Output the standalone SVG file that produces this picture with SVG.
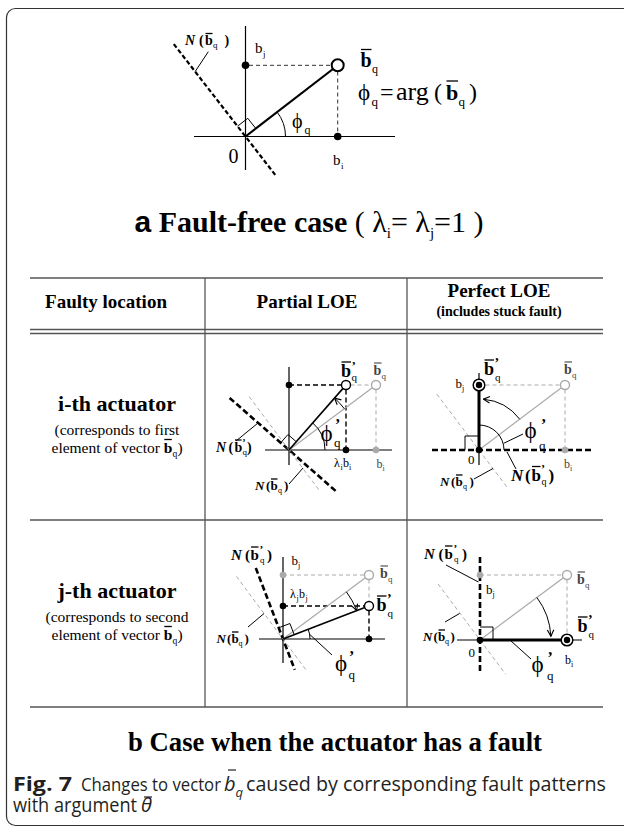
<svg xmlns="http://www.w3.org/2000/svg" width="624" height="830" viewBox="0 0 624 830">
<style>
.ax{stroke:#000;stroke-width:1.2;fill:none}
.vec{stroke:#000;stroke-width:1.6;fill:none}
.vecT{stroke:#000;stroke-width:3;fill:none}
.gv{stroke:#aaa;stroke-width:1.2;fill:none}
.gd{stroke:#aaa;stroke-width:1;stroke-dasharray:4 3;fill:none}
.bd{stroke:#000;stroke-width:1.4;stroke-dasharray:5 3;fill:none}
.kd{stroke:#333;stroke-width:1;stroke-dasharray:4 3;fill:none}
.nd{stroke:#000;stroke-width:2.6;stroke-dasharray:6 3;fill:none}
.thin{stroke:#000;stroke-width:1;fill:none}
.tl{stroke:#555;stroke-width:1.3}
.dot{fill:#000}
.gdot{fill:#aaa}
.oc{fill:#fff;stroke:#000;stroke-width:1.4}
.goc{fill:#fff;stroke:#aaa;stroke-width:1.4}
.bar{stroke:#000;stroke-width:1.3}
.gbar{stroke:#444;stroke-width:1.1}
text{font-family:"Liberation Serif","Times New Roman",serif;fill:#000}
.phi{font-family:"Liberation Serif","DejaVu Serif",serif}
.b{font-weight:bold}
.bi{font-weight:bold;font-style:italic}
.g{fill:#444}
.cap{font-family:"Open Sans","Liberation Sans",sans-serif;fill:#231f20}
</style>
<defs>
<marker id="arr" viewBox="0 0 10 10" refX="9" refY="5" markerWidth="8" markerHeight="8" markerUnits="userSpaceOnUse" orient="auto">
<path d="M1,1 L9,5 L1,9" fill="none" stroke="#000" stroke-width="1.4"/>
</marker>
</defs>
<rect width="624" height="830" fill="#fff"/>
<rect id="frame" x="6.5" y="8.5" width="720" height="817" rx="9" fill="none" stroke="#333" stroke-width="1.2"/>

<!-- panel a -->
<g id="panel-a">
<line class="ax" x1="194" y1="136.5" x2="395" y2="136.5"/>
<line class="ax" x1="245.5" y1="26" x2="245.5" y2="170"/>
<line class="kd" x1="249" y1="65.3" x2="331.5" y2="65.3"/>
<line class="kd" x1="337.7" y1="71.5" x2="337.7" y2="133"/>
<line x1="245.5" y1="136.5" x2="333" y2="69" stroke="#000" stroke-width="2.2"/>
<circle cx="337.7" cy="65.3" r="6" fill="#fff" stroke="#000" stroke-width="2"/>
<circle class="dot" cx="245.5" cy="65.3" r="3.8"/>
<circle class="dot" cx="337.7" cy="136.5" r="3.8"/>
<path class="thin" d="M285.5 136.5 A40 40 0 0 0 277.1 112"/>
<polyline class="thin" points="255.8,128.5 247.8,118.3 237.5,126.2"/>
<line x1="173.8" y1="44.1" x2="275.5" y2="175.2" stroke="#000" stroke-width="2.2" stroke-dasharray="4.5 2.5"/>
<line class="thin" x1="208.3" y1="51.7" x2="195.2" y2="71.5"/>
<text class="bi" x="185" y="45" font-size="14">N</text>
<text class="b" x="199" y="45" font-size="14">(</text>
<text class="b" x="205" y="45" font-size="14">b</text>
<line class="bar" x1="205.5" y1="33.5" x2="212.5" y2="33.5"/>
<text x="213" y="48" font-size="9">q</text>
<text class="b" x="224.5" y="45" font-size="14">)</text>
<text x="255" y="53" font-size="15">b</text><text x="263" y="57" font-size="9">j</text>
<text x="333" y="165" font-size="15">b</text><text x="341" y="169" font-size="9">i</text>
<text x="228.5" y="163" font-size="20">0</text>
<text class="phi" x="292" y="128" font-size="20">ϕ</text><text x="304.5" y="134" font-size="12">q</text>
<text class="b" x="360.5" y="67" font-size="20">b</text>
<line class="bar" x1="361" y1="49.5" x2="371.5" y2="49.5" stroke-width="1.6"/>
<text x="372" y="73" font-size="12">q</text>
<text class="phi" x="358" y="100" font-size="23">ϕ</text><text x="371.5" y="106" font-size="13">q</text>
<text x="380" y="100" font-size="24">=</text>
<text x="396" y="100" font-size="26">arg</text>
<text x="434" y="100" font-size="24">(</text>
<text class="b" x="446" y="100" font-size="22">b</text>
<line class="bar" x1="446.5" y1="81" x2="458" y2="81" stroke-width="1.6"/>
<text x="458.5" y="106" font-size="13">q</text>
<text x="469" y="100" font-size="24">)</text>
<text x="309" y="232" font-size="30" text-anchor="middle"><tspan font-family="Liberation Sans,Arial,sans-serif" font-weight="bold">a</tspan><tspan class="b"> Fault-free case</tspan><tspan> ( λ</tspan><tspan font-size="15" dy="6">i</tspan><tspan dy="-6">= λ</tspan><tspan font-size="15" dy="6">j</tspan><tspan dy="-6">=1 )</tspan></text>
</g>

<!-- table -->
<g id="table">
<line class="tl" x1="30" y1="278" x2="603" y2="278"/>
<line class="tl" x1="30" y1="329.5" x2="603" y2="329.5" stroke-width="1.1"/>
<line class="tl" x1="30" y1="333.5" x2="603" y2="333.5" stroke-width="1.1"/>
<line class="tl" x1="30" y1="520" x2="603" y2="520"/>
<line class="tl" x1="30" y1="707" x2="603" y2="707"/>
<line class="tl" x1="205" y1="278" x2="205" y2="707" stroke-width="1"/>
<line class="tl" x1="407" y1="278" x2="407" y2="707" stroke-width="1"/>
<text class="b" x="106" y="308" font-size="19" text-anchor="middle">Faulty location</text>
<text class="b" x="307" y="308" font-size="19" text-anchor="middle">Partial LOE</text>
<text class="b" x="499" y="297" font-size="19" text-anchor="middle">Perfect LOE</text>
<text class="b" x="499" y="316" font-size="14" text-anchor="middle">(includes stuck fault)</text>
</g>

<g id="row-i-label">
<text class="b" x="117" y="411" font-size="22" text-anchor="middle">i-th actuator</text>
<text x="117" y="435" font-size="15.5" text-anchor="middle">(corresponds to first</text>
<text x="51.5" y="453" font-size="15.5">element of vector </text>
<text class="b" x="163.8" y="453" font-size="15.5">b</text>
<line class="bar" x1="164.3" y1="439.5" x2="171.8" y2="439.5" stroke-width="1.1"/>
<text x="172.5" y="457" font-size="9.5">q</text>
<text x="177.5" y="453" font-size="15.5">)</text>
</g>
<g id="row-j-label">
<text class="b" x="117" y="598" font-size="22" text-anchor="middle">j-th actuator</text>
<text x="117" y="622" font-size="15.5" text-anchor="middle">(corresponds to second</text>
<text x="51.5" y="640" font-size="15.5">element of vector </text>
<text class="b" x="163.8" y="640" font-size="15.5">b</text>
<line class="bar" x1="164.3" y1="626.5" x2="171.8" y2="626.5" stroke-width="1.1"/>
<text x="172.5" y="644" font-size="9.5">q</text>
<text x="177.5" y="640" font-size="15.5">)</text>
</g>

<!-- cell i partial -->
<g id="cell-i-partial">
<line class="ax" x1="289" y1="367" x2="289" y2="465"/>
<line class="ax" x1="265" y1="450" x2="392" y2="450"/>
<line class="nd" x1="229.6" y1="397.9" x2="335.6" y2="490.9"/>
<line class="gd" x1="249.2" y1="396.7" x2="319" y2="490"/>
<line class="gd" x1="350.5" y1="385" x2="371.5" y2="385"/>
<line class="gd" x1="376" y1="389.5" x2="376" y2="450"/>
<line class="bd" x1="289" y1="385" x2="341.5" y2="385"/>
<line class="bd" x1="346" y1="389.5" x2="346" y2="450"/>
<line class="gv" x1="289" y1="450" x2="372.4" y2="387.7"/>
<line class="vec" x1="289" y1="450" x2="343" y2="388.4"/>
<circle class="dot" cx="289" cy="385" r="3.3"/>
<circle class="dot" cx="346" cy="450" r="3.3"/>
<circle class="gdot" cx="376" cy="450" r="3.3"/>
<circle class="oc" cx="346" cy="385" r="4.5"/>
<circle class="goc" cx="376" cy="385" r="4.5"/>
<path class="thin" d="M325 450 A36 36 0 0 0 312.7 422.9"/>
<path class="thin" d="M344.3 408.7 A69 69 0 0 0 334.5 398.1" marker-end="url(#arr)"/>
<polyline class="thin" points="296.25,441.73 287.98,434.48 280.73,442.75"/>
<line class="thin" x1="236" y1="441" x2="258" y2="423"/>
<line class="thin" x1="289" y1="484" x2="303" y2="468"/>
<text class="b" x="341" y="377" font-size="18">b</text>
<line class="bar" x1="341.5" y1="362" x2="351" y2="362"/>
<text class="b" x="351.5" y="370" font-size="13">’</text>
<text x="351.5" y="381" font-size="11">q</text>
<text class="b g" x="373.5" y="375" font-size="14">b</text>
<line class="gbar" x1="374" y1="363" x2="381.5" y2="363"/>
<text class="g" x="381.5" y="379" font-size="9">q</text>
<text class="phi" x="320.5" y="441" font-size="23">ϕ</text>
<text class="b" x="335" y="430" font-size="16">’</text>
<text x="334" y="447" font-size="13">q</text>
<text x="334" y="467" font-size="12">λ</text><text x="340.5" y="470" font-size="8">i</text>
<text x="343" y="467" font-size="12">b</text><text x="349" y="470" font-size="8">i</text>
<text class="g" x="376.5" y="468" font-size="12">b</text><text class="g" x="382.5" y="471" font-size="8">i</text>
<text class="bi" x="216" y="452" font-size="14">N</text>
<text class="b" x="228.5" y="452" font-size="14">(</text>
<text class="b" x="234.5" y="452" font-size="14">b</text>
<line class="bar" x1="235" y1="440" x2="241.5" y2="440" stroke-width="1.1"/>
<text class="b" x="242.3" y="446" font-size="10">’</text>
<text x="242.5" y="455" font-size="9">q</text>
<text class="b" x="247" y="452" font-size="14">)</text>
<text class="bi" x="255" y="490" font-size="13">N</text>
<text class="b" x="266" y="490" font-size="13">(</text>
<text class="b" x="270.5" y="490" font-size="13">b</text>
<line class="bar" x1="271" y1="479" x2="277.5" y2="479" stroke-width="1.1"/>
<text x="278" y="493" font-size="8">q</text>
<text class="b" x="284" y="490" font-size="13">)</text>
</g>

<!-- cell i perfect -->
<g id="cell-i-perfect">
<line class="ax" x1="479" y1="373" x2="479" y2="465"/>
<line class="nd" x1="432" y1="450" x2="592" y2="450"/>
<line class="gd" x1="436.8" y1="394.1" x2="506.7" y2="486.7"/>
<line class="gd" x1="485.5" y1="385" x2="560.5" y2="385"/>
<line class="gd" x1="565" y1="389.5" x2="565" y2="450"/>
<line class="gv" x1="479" y1="450" x2="561.4" y2="387.7"/>
<line class="vecT" x1="479" y1="450" x2="479" y2="391"/>
<circle class="gdot" cx="565" cy="450" r="3.3"/>
<circle class="goc" cx="565" cy="385" r="4.5"/>
<circle cx="479" cy="385" r="5.8" fill="#fff" stroke="#000" stroke-width="1.5"/>
<circle class="dot" cx="479" cy="385" r="3.2"/>
<circle class="dot" cx="479" cy="450" r="3.3"/>
<path class="thin" d="M504 450 A25 25 0 0 0 479 425"/>
<path class="thin" d="M519.7 419.2 A51 51 0 0 0 483.4 399.2" marker-end="url(#arr)"/>
<polyline class="thin" points="465,450 465,436 479,436"/>
<line class="thin" x1="523" y1="434" x2="503.7" y2="443.3"/>
<line class="thin" x1="516" y1="469" x2="507" y2="452"/>
<line class="thin" x1="474" y1="479" x2="493" y2="468.5"/>
<text class="b" x="484" y="375" font-size="18">b</text>
<line class="bar" x1="484.5" y1="360" x2="494" y2="360"/>
<text class="b" x="494.5" y="368" font-size="14">’</text>
<text x="495" y="381" font-size="11">q</text>
<text class="b g" x="564" y="374" font-size="14">b</text>
<line class="gbar" x1="564.5" y1="362" x2="572" y2="362"/>
<text class="g" x="572" y="378" font-size="9">q</text>
<text x="455.5" y="388" font-size="13">b</text><text x="462" y="391" font-size="8">j</text>
<text x="468" y="464" font-size="13">0</text>
<text class="g" x="564" y="468" font-size="12">b</text><text class="g" x="570" y="471" font-size="8">i</text>
<text class="phi" x="524.5" y="438" font-size="23">ϕ</text>
<text class="b" x="541" y="430" font-size="16">’</text>
<text x="539" y="450" font-size="13">q</text>
<text class="bi" x="511" y="481" font-size="17">N</text>
<text class="b" x="525" y="481" font-size="17">(</text>
<text class="b" x="531.5" y="481" font-size="17">b</text>
<line class="bar" x1="532" y1="466.5" x2="540.5" y2="466.5"/>
<text class="b" x="541" y="473" font-size="12">’</text>
<text x="541.5" y="485" font-size="10">q</text>
<text class="b" x="548.5" y="481" font-size="17">)</text>
<text class="bi" x="440" y="486" font-size="13">N</text>
<text class="b" x="451" y="486" font-size="13">(</text>
<text class="b" x="455.5" y="486" font-size="13">b</text>
<line class="bar" x1="456" y1="475" x2="462.5" y2="475" stroke-width="1.1"/>
<text x="463" y="489" font-size="8">q</text>
<text class="b" x="469.5" y="486" font-size="13">)</text>
</g>

<!-- cell j partial -->
<g id="cell-j-partial">
<line class="ax" x1="283" y1="557" x2="283" y2="663"/>
<line class="ax" x1="259" y1="639" x2="385" y2="639"/>
<line class="nd" x1="255.8" y1="568" x2="294.8" y2="669.8"/>
<line class="gd" x1="236.4" y1="576.4" x2="305.7" y2="669.5"/>
<line class="gd" x1="283" y1="575" x2="364.5" y2="575"/>
<line class="gd" x1="369" y1="579.5" x2="369" y2="601.5"/>
<line class="bd" x1="283" y1="606" x2="364.5" y2="606"/>
<line class="bd" x1="369" y1="610.5" x2="369" y2="639"/>
<line class="gv" x1="283" y1="639" x2="365.4" y2="577.7"/>
<line class="vec" x1="283" y1="639" x2="364.8" y2="607.6"/>
<circle class="gdot" cx="283" cy="575" r="3.3"/>
<circle class="dot" cx="283" cy="606" r="3.3"/>
<circle class="dot" cx="369" cy="639" r="3.3"/>
<circle class="goc" cx="369" cy="575" r="4.5"/>
<circle class="oc" cx="369" cy="606" r="4.5"/>
<path class="thin" d="M310 639 A27 27 0 0 0 308.2 629.3"/>
<path class="thin" d="M346.4 591.8 A79 79 0 0 1 356.8 610.7" marker-end="url(#arr)"/>
<polyline class="thin" points="294.2,634.7 289.9,623.5 278.7,627.8"/>
<line class="thin" x1="332" y1="655" x2="309.6" y2="634.3"/>
<line class="thin" x1="248" y1="627" x2="264" y2="613.5"/>
<text x="291.5" y="565" font-size="13">b</text><text x="298" y="568" font-size="8">j</text>
<text x="290" y="598" font-size="12">λ</text><text x="296.5" y="601" font-size="8">j</text>
<text x="299" y="598" font-size="12">b</text><text x="305.5" y="601" font-size="8">j</text>
<text class="b g" x="380" y="578" font-size="14">b</text>
<line class="gbar" x1="380.5" y1="566" x2="388" y2="566"/>
<text class="g" x="388" y="582" font-size="9">q</text>
<text class="b" x="376.5" y="611" font-size="18">b</text>
<line class="bar" x1="377" y1="596" x2="386.5" y2="596"/>
<text class="b" x="387" y="604" font-size="14">’</text>
<text x="387.5" y="617" font-size="11">q</text>
<text class="phi" x="335" y="671" font-size="23">ϕ</text>
<text class="b" x="349" y="662" font-size="16">’</text>
<text x="348.5" y="679" font-size="13">q</text>
<text class="bi" x="231" y="560" font-size="15">N</text>
<text class="b" x="245" y="560" font-size="15">(</text>
<text class="b" x="250.5" y="560" font-size="15">b</text>
<line class="bar" x1="251" y1="547" x2="258.5" y2="547" stroke-width="1.2"/>
<text class="b" x="259.5" y="553" font-size="11">’</text>
<text x="260" y="563" font-size="9">q</text>
<text class="b" x="267" y="560" font-size="15">)</text>
<text class="bi" x="216.5" y="643" font-size="13">N</text>
<text class="b" x="227" y="643" font-size="13">(</text>
<text class="b" x="231.5" y="643" font-size="13">b</text>
<line class="bar" x1="232" y1="632" x2="238.5" y2="632" stroke-width="1.1"/>
<text x="238.5" y="646" font-size="8">q</text>
<text class="b" x="244.5" y="643" font-size="13">)</text>
</g>

<!-- cell j perfect -->
<g id="cell-j-perfect">
<line class="ax" x1="457" y1="640" x2="582" y2="640"/>
<line class="nd" x1="480" y1="557" x2="480" y2="673"/>
<line class="gd" x1="438" y1="583.9" x2="505.8" y2="674.4"/>
<line class="gd" x1="480" y1="575" x2="562.5" y2="575"/>
<line class="gd" x1="567" y1="579.5" x2="567" y2="634"/>
<line class="gv" x1="480" y1="640" x2="563.4" y2="577.7"/>
<line class="vecT" x1="480" y1="640" x2="561" y2="640"/>
<circle class="gdot" cx="480" cy="575" r="3.3"/>
<circle class="goc" cx="567" cy="575" r="4.5"/>
<circle cx="567" cy="640" r="5.8" fill="#fff" stroke="#000" stroke-width="1.5"/>
<circle class="dot" cx="567" cy="640" r="3.2"/>
<circle class="dot" cx="480" cy="640" r="3.3"/>
<polyline class="thin" points="480,627 493,627 493,640"/>
<path class="thin" d="M536.9 597.5 A71 71 0 0 1 550.9 636.3" marker-end="url(#arr)"/>
<line class="thin" x1="531" y1="659" x2="511" y2="641"/>
<line class="thin" x1="446" y1="565" x2="478.5" y2="582"/>
<line class="thin" x1="445" y1="622" x2="459.5" y2="613.5"/>
<text class="bi" x="424" y="559" font-size="15">N</text>
<text class="b" x="438.5" y="559" font-size="15">(</text>
<text class="b" x="444.5" y="559" font-size="15">b</text>
<line class="bar" x1="445" y1="546" x2="452.5" y2="546" stroke-width="1.2"/>
<text class="b" x="453.5" y="552" font-size="11">’</text>
<text x="454" y="562" font-size="9">q</text>
<text class="b" x="462" y="559" font-size="15">)</text>
<text x="486" y="594" font-size="13">b</text><text x="492.5" y="597" font-size="8">j</text>
<text class="b g" x="577" y="584" font-size="14">b</text>
<line class="gbar" x1="577.5" y1="572" x2="585" y2="572"/>
<text class="g" x="585" y="588" font-size="9">q</text>
<text class="b" x="577.5" y="632" font-size="18">b</text>
<line class="bar" x1="578" y1="617" x2="587.5" y2="617"/>
<text class="b" x="588" y="625" font-size="14">’</text>
<text x="588.5" y="638" font-size="11">q</text>
<text x="565" y="664" font-size="12">b</text><text x="571" y="667" font-size="8">i</text>
<text x="468.5" y="657" font-size="13">0</text>
<text class="phi" x="531.5" y="672" font-size="23">ϕ</text>
<text class="b" x="547.5" y="663" font-size="16">’</text>
<text x="547" y="680" font-size="13">q</text>
<text class="bi" x="423" y="641" font-size="13">N</text>
<text class="b" x="433.5" y="641" font-size="13">(</text>
<text class="b" x="438" y="641" font-size="13">b</text>
<line class="bar" x1="438.5" y1="630" x2="445" y2="630" stroke-width="1.1"/>
<text x="445" y="644" font-size="8">q</text>
<text class="b" x="450.5" y="641" font-size="13">)</text>
</g>

<!-- captions -->
<g id="captions">
<text class="b" x="335" y="751" font-size="28" textLength="414" lengthAdjust="spacingAndGlyphs" text-anchor="middle">b Case when the actuator has a fault</text>
<text class="cap" x="13" y="791" font-size="20" font-weight="bold" textLength="59" lengthAdjust="spacingAndGlyphs">Fig. 7</text>
<text class="cap" x="81" y="791" font-size="19" textLength="140" lengthAdjust="spacingAndGlyphs">Changes to vector</text>
<text class="cap" x="224" y="791" font-size="20" font-style="italic">b</text>
<line x1="228" y1="770" x2="236" y2="770" stroke="#231f20" stroke-width="1.2"/>
<text class="cap" x="235.5" y="797" font-size="13" font-style="italic">q</text>
<text class="cap" x="246" y="791" font-size="20" textLength="360" lengthAdjust="spacingAndGlyphs">caused by corresponding fault patterns</text>
<text class="cap" x="13" y="812" font-size="20" textLength="124" lengthAdjust="spacingAndGlyphs">with argument</text>
<text class="cap" x="141" y="812" font-size="20" font-style="italic">θ</text>
<line x1="144" y1="797" x2="152" y2="797" stroke="#231f20" stroke-width="1.2"/>
</g>
</svg>
